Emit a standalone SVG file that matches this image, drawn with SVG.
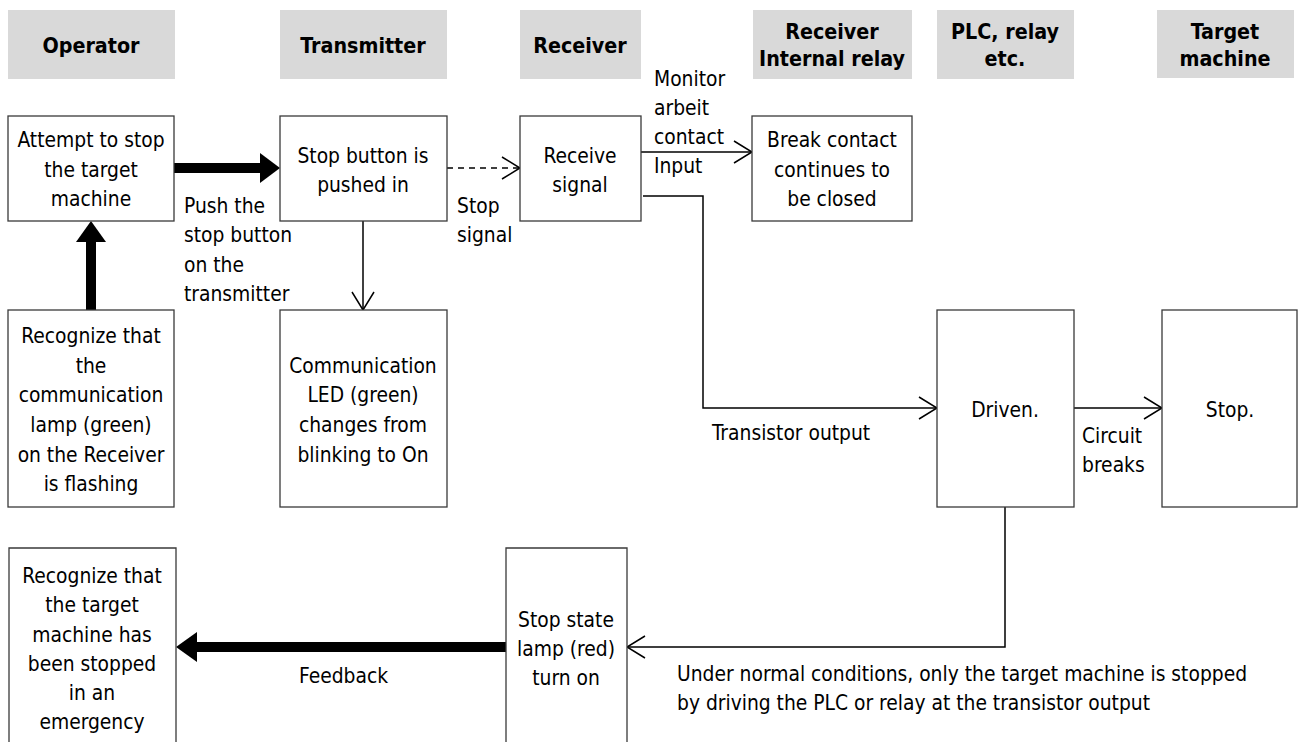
<svg xmlns="http://www.w3.org/2000/svg" width="1298" height="742" viewBox="0 0 1298 742">
<style>
text{font-family:"DejaVu Sans Condensed","DejaVu Sans",sans-serif;font-stretch:condensed;font-size:20.8px;fill:#000}
.h{font-weight:bold;text-anchor:middle;font-size:21.3px}
.c{text-anchor:middle}
.hdr{fill:#d9d9d9}
.box{fill:#fff;stroke:#3a3a3a;stroke-width:1.3}
.ln{fill:none;stroke:#000;stroke-width:1.5}
.dash{stroke-dasharray:6 5}
.thick{fill:none;stroke:#000;stroke-width:10}
</style>
<defs>
<marker id="open" viewBox="0 0 20 24" refX="19" refY="12" markerWidth="20" markerHeight="24" markerUnits="userSpaceOnUse" orient="auto">
<polyline points="1,1 19,12 1,23" fill="none" stroke="#000" stroke-width="1.5"/>
</marker>
</defs>
<g id="headers">
<rect class="hdr" x="8" y="10" width="167" height="69"/>
<text class="h" x="91" y="53">Operator</text>
<rect class="hdr" x="280" y="10" width="167" height="69"/>
<text class="h" x="363" y="53">Transmitter</text>
<rect class="hdr" x="520" y="10" width="121" height="69"/>
<text class="h" x="580" y="53">Receiver</text>
<rect class="hdr" x="753" y="10" width="159" height="69"/>
<text class="h" x="832" y="39">Receiver</text>
<text class="h" x="832" y="66">Internal relay</text>
<rect class="hdr" x="937" y="10" width="137" height="69"/>
<text class="h" x="1005" y="39">PLC, relay</text>
<text class="h" x="1005" y="66">etc.</text>
<rect class="hdr" x="1157" y="10" width="137" height="68"/>
<text class="h" x="1225" y="39">Target</text>
<text class="h" x="1225" y="66">machine</text>
</g>
<g id="connectors">
<line class="thick" x1="174" y1="168" x2="262" y2="168"/>
<polygon points="260,153 280,168 260,183"/>
<line class="thick" x1="91" y1="310" x2="91" y2="240"/>
<polygon points="76,242 91,221 106,242"/>
<line class="ln" x1="363" y1="221" x2="363" y2="310" marker-end="url(#open)"/>
<line class="ln dash" x1="447" y1="168" x2="520" y2="168" marker-end="url(#open)"/>
<line class="ln" x1="641" y1="152" x2="752" y2="152" marker-end="url(#open)"/>
<polyline class="ln" points="643,196 703,196 703,408 937,408" marker-end="url(#open)"/>
<line class="ln" x1="1074" y1="408" x2="1162" y2="408" marker-end="url(#open)"/>
<polyline class="ln" points="1005,507 1005,647 627,647" marker-end="url(#open)"/>
<line class="thick" x1="506" y1="647" x2="195" y2="647"/>
<polygon points="197,632 176,647 197,662"/>
<text x="184" y="213">Push the</text>
<text x="184" y="242">stop button</text>
<text x="184" y="272">on the</text>
<text x="184" y="301">transmitter</text>
<text x="457" y="213">Stop</text>
<text x="457" y="242">signal</text>
<text x="654" y="86">Monitor</text>
<text x="654" y="115">arbeit</text>
<text x="654" y="144">contact</text>
<text x="654" y="173">Input</text>
<text x="712" y="440">Transistor output</text>
<text x="1082" y="443">Circuit</text>
<text x="1082" y="472">breaks</text>
<text x="299" y="683">Feedback</text>
<text x="677" y="681">Under normal conditions, only the target machine is stopped</text>
<text x="677" y="710">by driving the PLC or relay at the transistor output</text>
</g>
<g id="n-attempt">
<rect class="box" x="8" y="116" width="166" height="105"/>
<text class="c" x="91" y="147">Attempt to stop</text>
<text class="c" x="91" y="177">the target</text>
<text class="c" x="91" y="206">machine</text>
</g>
<g id="n-stopbutton">
<rect class="box" x="280" y="116" width="167" height="105"/>
<text class="c" x="363" y="163">Stop button is</text>
<text class="c" x="363" y="192">pushed in</text>
</g>
<g id="n-receive">
<rect class="box" x="520" y="116" width="121" height="105"/>
<text class="c" x="580" y="163">Receive</text>
<text class="c" x="580" y="192">signal</text>
</g>
<g id="n-break">
<rect class="box" x="752" y="116" width="160" height="105"/>
<text class="c" x="832" y="147">Break contact</text>
<text class="c" x="832" y="177">continues to</text>
<text class="c" x="832" y="206">be closed</text>
</g>
<g id="n-lamp">
<rect class="box" x="8" y="310" width="166" height="197"/>
<text class="c" x="91" y="343">Recognize that</text>
<text class="c" x="91" y="373">the</text>
<text class="c" x="91" y="402">communication</text>
<text class="c" x="91" y="432">lamp (green)</text>
<text class="c" x="91" y="462">on the Receiver</text>
<text class="c" x="91" y="491">is flashing</text>
</g>
<g id="n-led">
<rect class="box" x="280" y="310" width="167" height="197"/>
<text class="c" x="363" y="373">Communication</text>
<text class="c" x="363" y="402">LED (green)</text>
<text class="c" x="363" y="432">changes from</text>
<text class="c" x="363" y="462">blinking to On</text>
</g>
<g id="n-driven">
<rect class="box" x="937" y="310" width="137" height="197"/>
<text class="c" x="1005" y="417">Driven.</text>
</g>
<g id="n-stop">
<rect class="box" x="1162" y="310" width="135" height="197"/>
<text class="c" x="1230" y="417">Stop.</text>
</g>
<g id="n-stoplamp">
<path class="box" d="M506,745 V548 H627 V745"/>
<text class="c" x="566" y="627">Stop state</text>
<text class="c" x="566" y="656">lamp (red)</text>
<text class="c" x="566" y="685">turn on</text>
</g>
<g id="n-recognize">
<path class="box" d="M9,745 V548 H176 V745"/>
<text class="c" x="92" y="583">Recognize that</text>
<text class="c" x="92" y="612">the target</text>
<text class="c" x="92" y="642">machine has</text>
<text class="c" x="92" y="671">been stopped</text>
<text class="c" x="92" y="700">in an</text>
<text class="c" x="92" y="729">emergency</text>
</g>
</svg>
